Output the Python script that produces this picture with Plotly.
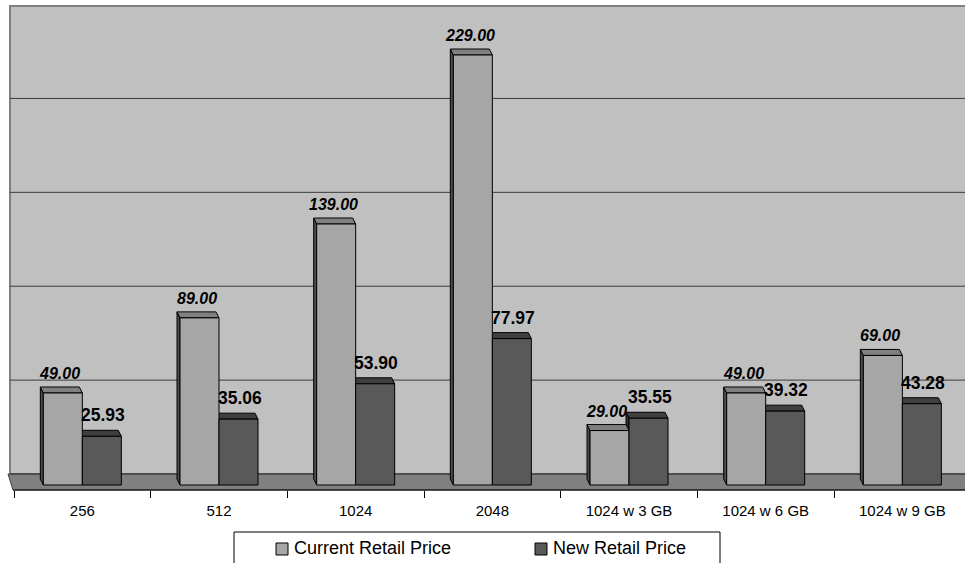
import plotly.graph_objects as go

# ---- data -------------------------------------------------------------
categories = ["256", "512", "1024", "2048", "1024 w 3 GB", "1024 w 6 GB", "1024 w 9 GB"]
current_price = [49.00, 89.00, 139.00, 229.00, 29.00, 49.00, 69.00]
new_price = [25.93, 35.06, 53.90, 77.97, 35.55, 39.32, 43.28]
series_names = ["Current Retail Price", "New Retail Price"]
grid_values = [0, 50, 100, 150, 200]

# ---- page geometry ------------------------------------------------------
W, H = 965, 563
ML, MR, MT, MB = 9, 0, 5, 73
PLOT_W = W - ML - MR
PLOT_H = H - MT - MB
CAT_PX = 136.67          # width of one category slot in px
Y_PX = 1.8777            # px per price unit
FLOOR_DROP = 5           # front edge of floor below the bar baseline (px)
WALL_LIFT = 11           # back-wall baseline above the bar baseline (px)
DEPTH_DX, DEPTH_DY = -3, 6   # bar depth projection (px)
FIRST_EDGE = 5           # first category edge, px right of plot left
BAR_PX = 39              # front face width of a bar (px)

x_lo = -0.5 - FIRST_EDGE / CAT_PX
x_hi = x_lo + PLOT_W / CAT_PX
y_lo = -FLOOR_DROP / Y_PX
y_hi = y_lo + PLOT_H / Y_PX

BAR_W = BAR_PX / CAT_PX
DDX = DEPTH_DX / CAT_PX
DDY = DEPTH_DY / Y_PX
LIFT = WALL_LIFT / Y_PX

FONT = "Arial, Liberation Sans, sans-serif"
WALL = "#c0c0c0"
FLOOR = "#808080"
COLORS = {
    "front": ["#a6a6a6", "#595959"],
    "top": ["#808080", "#3f3f3f"],
    "side": ["#4d4d4d", "#333333"],
}


def px_x(p):
    return (p - ML) / PLOT_W


def px_y(p):
    return (H - MB - p) / PLOT_H


series = [current_price, new_price]
offsets = [-BAR_W / 2, BAR_W / 2]
xs = list(range(len(categories)))

fig = go.Figure()
for k, vals in enumerate(series):
    fig.add_trace(go.Bar(
        x=xs, y=vals, name=series_names[k],
        marker=dict(color=COLORS["front"][k], line=dict(color="black", width=1)),
        showlegend=False, hoverinfo="skip",
    ))

shapes = []
# back wall
shapes.append(dict(type="rect", xref="paper", yref="paper", layer="below",
                   x0=px_x(10), x1=px_x(980), y0=px_y(474), y1=px_y(6),
                   fillcolor=WALL, line=dict(color="#808080", width=2)))
# floor
shapes.append(dict(type="path", xref="paper", yref="paper", layer="below",
                   path=(f"M{px_x(8)},{px_y(474)} L{px_x(980)},{px_y(474)} "
                         f"L{px_x(980)},{px_y(490)} L{px_x(13)},{px_y(490)} Z"),
                   fillcolor=FLOOR, line=dict(color="#404040", width=1)))
shapes.append(dict(type="line", xref="paper", yref="paper", layer="below",
                   x0=px_x(13), x1=px_x(980), y0=px_y(490), y1=px_y(490),
                   line=dict(color="black", width=1)))
# gridlines on the back wall (wall baseline sits WALL_LIFT px above the bars)
for g in grid_values:
    shapes.append(dict(type="line", xref="paper", yref="y", layer="below",
                       x0=px_x(10), x1=px_x(980), y0=g + LIFT, y1=g + LIFT,
                       line=dict(color="#3c3c3c", width=1)))

# top and side faces of every bar (dark series first so light faces sit over it)
for k in (1, 0):
    for i, v in enumerate(series[k]):
        xl = i + offsets[k] - BAR_W / 2
        xr = xl + BAR_W
        shapes.append(dict(
            type="path", xref="x", yref="y", layer="between",
            path=(f"M{xl},0 L{xl},{v} L{xl + DDX},{v + DDY} L{xl + DDX},{DDY} Z"),
            fillcolor=COLORS["side"][k], line=dict(color="black", width=1)))
        shapes.append(dict(
            type="path", xref="x", yref="y", layer="between",
            path=(f"M{xl},{v} L{xr},{v} L{xr + DDX},{v + DDY} L{xl + DDX},{v + DDY} Z"),
            fillcolor=COLORS["top"][k], line=dict(color="black", width=1)))

# legend box
LEG_L, LEG_R, LEG_T = 234, 720, 532
shapes.append(dict(type="rect", xref="paper", yref="paper", layer="above",
                   x0=px_x(LEG_L), x1=px_x(LEG_R), y0=px_y(LEG_T), y1=px_y(580),
                   fillcolor="white", line=dict(color="black", width=1)))
swatch_x = [276, 535]
for k in range(2):
    shapes.append(dict(type="rect", xref="paper", yref="paper", layer="above",
                       x0=px_x(swatch_x[k]), x1=px_x(swatch_x[k] + 12),
                       y0=px_y(555), y1=px_y(543),
                       fillcolor=COLORS["front"][k], line=dict(color="black", width=1)))

annotations = []
label_fonts = [
    dict(family=FONT, size=16, color="black", weight="bold", style="italic"),
    dict(family=FONT, size=17.5, color="black", weight="bold"),
]
label_shift = [(-3, 3), (1, 3)]
for k, vals in enumerate(series):
    for i, v in enumerate(vals):
        annotations.append(dict(
            x=i + offsets[k], y=v, xref="x", yref="y", text=f"{v:.2f}",
            showarrow=False, yanchor="bottom", xanchor="center",
            xshift=label_shift[k][0], yshift=DEPTH_DY + label_shift[k][1],
            font=label_fonts[k]))
for k in range(2):
    annotations.append(dict(
        x=px_x(swatch_x[k] + 16), y=px_y(548), xref="paper", yref="paper",
        text=series_names[k], showarrow=False, xanchor="left", yanchor="middle",
        font=dict(family=FONT, size=18, color="black")))

fig.update_layout(
    width=W, height=H,
    margin=dict(l=ML, r=MR, t=MT, b=MB, pad=0),
    paper_bgcolor="white", plot_bgcolor="rgba(0,0,0,0)",
    barmode="group", bargap=1 - 2 * BAR_W, bargroupgap=0,
    showlegend=False,
    shapes=shapes, annotations=annotations,
    xaxis=dict(
        range=[x_lo, x_hi], tickmode="array", tickvals=xs, ticktext=categories,
        ticks="outside", ticklen=7, tickcolor="rgba(0,0,0,0)",
        showgrid=False, zeroline=False, showline=False,
        tickfont=dict(family=FONT, size=15, color="black"),
        minor=dict(tickmode="array", tickvals=[i - 0.5 for i in range(len(categories) + 1)],
                   ticks="outside", ticklen=7, tickcolor="black", tickwidth=1, showgrid=False),
    ),
    yaxis=dict(range=[y_lo, y_hi], showgrid=False, zeroline=False,
               showticklabels=False, ticks=""),
)

fig.write_html("out.html")
